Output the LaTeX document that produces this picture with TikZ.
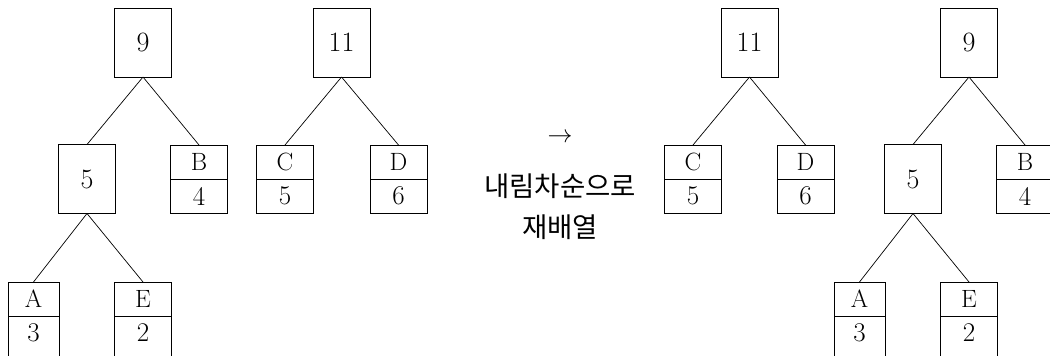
\documentclass[tikz,border=0pt]{standalone}
\usepackage{fontspec}
\newfontfamily\krfont{Noto Sans CJK KR}
\begin{document}
\begin{tikzpicture}[x=1pt,y=-1pt,
  every node/.style={inner sep=0pt, outer sep=0pt},
  wt/.style={draw, line width=0.8pt, rectangle, minimum width=57pt, minimum height=69pt,
    font=\fontsize{28}{30}\selectfont},
  lab/.style={draw, line width=0.8pt, rectangle, minimum width=57pt, minimum height=34pt,
    anchor=north, font=\fontsize{25}{28}\selectfont},
  val/.style={lab, font=\fontsize{27}{30}\selectfont},
  tall/.style={minimum height=50pt, text depth=16pt},
  narrow/.style={minimum width=51pt},
  edge/.style={line width=0.7pt},
  krtext/.style={font=\krfont\fontsize{27.5}{30}\selectfont}
]
\useasboundingbox (0,0) rectangle (1050,356);
\clip (0,0) rectangle (1050,356);
\fill[white] (0,0) rectangle (1050,356);

% ---- left tree 9
\node[wt] (L9) at (143,42.5) {9};
\node[wt] (L5) at (87,179) {5};
\node[lab] (LB) at (199,145) {B};
\node[val] (LB4) at (LB.south) {4};
\node[lab, narrow] (LA) at (33.5,282) {A};
\node[val, narrow, tall] (LA3) at (LA.south) {3};
\node[lab] (LE) at (143,282) {E};
\node[val, tall] (LE2) at (LE.south) {2};
\draw[edge] (L9.south) -- (L5.north);
\draw[edge] (L9.south) -- (LB.north);
\draw[edge] (L5.south) -- (LA.north);
\draw[edge] (L5.south) -- (LE.north);

% ---- left tree 11
\node[wt] (L11) at (341.5,42.5) {11};
\node[lab] (LC) at (285,145) {C};
\node[val] (LC5) at (LC.south) {5};
\node[lab] (LD) at (398.5,145) {D};
\node[val] (LD6) at (LD.south) {6};
\draw[edge] (L11.south) -- (LC.north);
\draw[edge] (L11.south) -- (LD.north);

% ---- middle text
\node[font=\fontsize{25}{28}\selectfont] (arr) at (560,138) {$\rightarrow$};
\node[krtext] (t1) at (560,186) {내림차순으로};
\node[krtext] (t2) at (560,227) {재배열};

% ---- right tree 11
\node[wt] (R11) at (749.5,42.5) {11};
\node[lab] (RC) at (693,145) {C};
\node[val] (RC5) at (RC.south) {5};
\node[lab] (RD) at (805.5,145) {D};
\node[val] (RD6) at (RD.south) {6};
\draw[edge] (R11.south) -- (RC.north);
\draw[edge] (R11.south) -- (RD.north);

% ---- right tree 9
\node[wt] (R9) at (969,42.5) {9};
\node[wt] (R5) at (913,179) {5};
\node[lab] (RB) at (1025,145) {B};
\node[val] (RB4) at (RB.south) {4};
\node[lab, narrow] (RA) at (859.5,282) {A};
\node[val, narrow, tall] (RA3) at (RA.south) {3};
\node[lab] (RE) at (969,282) {E};
\node[val, tall] (RE2) at (RE.south) {2};
\draw[edge] (R9.south) -- (R5.north);
\draw[edge] (R9.south) -- (RB.north);
\draw[edge] (R5.south) -- (RA.north);
\draw[edge] (R5.south) -- (RE.north);
\end{tikzpicture}
\end{document}
